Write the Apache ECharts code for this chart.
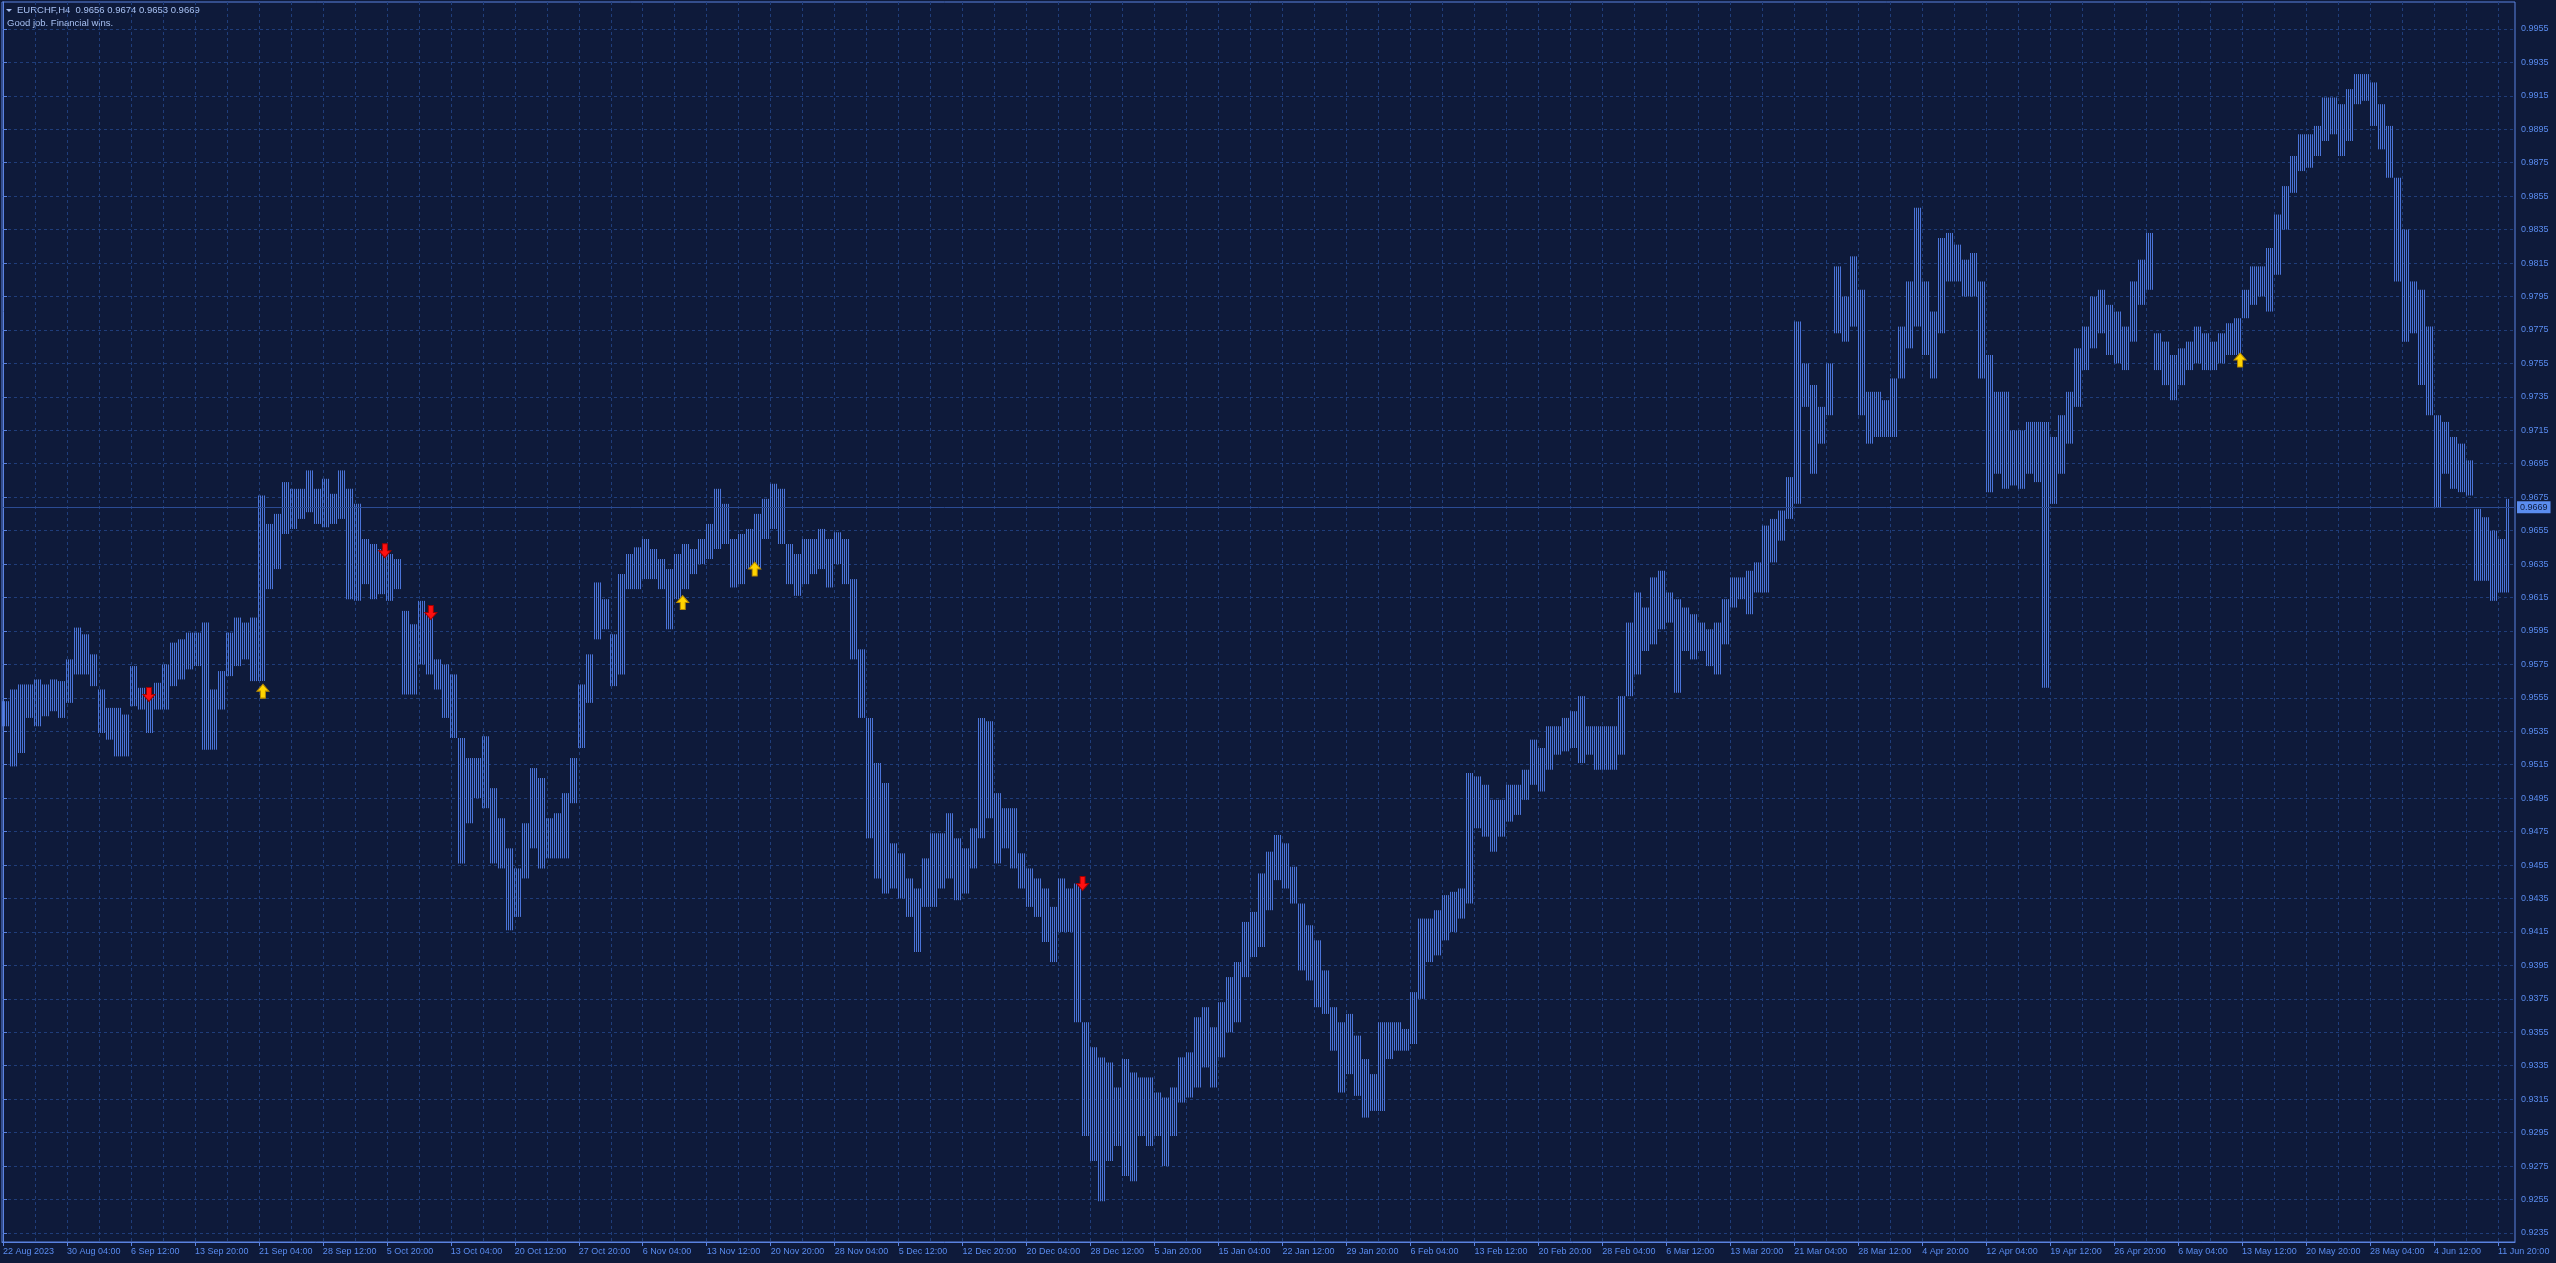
<!DOCTYPE html>
<html><head><meta charset="utf-8">
<style>html,body{margin:0;padding:0;background:#0e1a3a;overflow:hidden}#c{width:2556px;height:1263px}</style>
<script src="https://cdn.jsdelivr.net/npm/echarts@6/dist/echarts.min.js"></script>
</head><body><div id="c"></div>
<script>
const symbolName = 'EURCHF,H4';
const lastBar = {open: 0.9656, high: 0.9674, low: 0.9653, close: 0.9669};
const commentText = 'Good job. Financial wins.';
const barsPerGroup = 4;
const lastBarIndex = 1253;
// high / low of each group of 4 H4 bars, in pips (0.0001)
const groupHighPips = [
9553,9560,9563,9563,9566,9563,9566,9565,9578,9597,
9593,9581,9560,9549,9549,9545,9574,9561,9556,9564,
9575,9588,9590,9594,9594,9600,9560,9571,9594,9603,
9600,9603,9676,9659,9665,9684,9680,9680,9691,9680,
9686,9677,9691,9680,9671,9650,9647,9644,9641,9638,
9607,9599,9613,9605,9578,9575,9569,9531,9519,9519,
9532,9501,9483,9465,9453,9480,9513,9507,9483,9486,
9498,9519,9563,9581,9624,9614,9593,9629,9641,9645,
9650,9644,9638,9632,9641,9647,9644,9650,9659,9680,
9671,9650,9653,9656,9665,9674,9683,9680,9647,9641,
9650,9650,9656,9650,9654,9650,9626,9584,9543,9516,
9504,9468,9462,9447,9441,9459,9474,9474,9486,9471,
9465,9477,9543,9541,9498,9489,9489,9462,9453,9447,
9441,9430,9447,9441,9444,9361,9346,9340,9337,9322,
9339,9331,9328,9328,9319,9316,9322,9340,9343,9364,
9370,9358,9373,9388,9397,9421,9427,
9450,9463,9473,9468,9454,9432,9419,9410,9392,9370,
9361,9366,9353,9339,9330,9361,9361,9361,9357,9379,
9423,9423,9428,9437,9439,9441,9510,9508,9503,9494,
9494,9503,9503,9512,9530,9525,9538,9538,9543,9547,
9556,9538,9538,9538,9538,9556,9600,9618,9609,9627,9631,
9618,9614,9609,9605,9600,9596,9600,9614,9627,9627,
9631,9636,9658,9662,9667,9687,9780,9755,9742,9729,
9755,9813,9795,9819,9799,9738,9738,9733,9746,9777,
9804,9848,9804,9786,9830,9833,9826,9817,9821,9804,
9760,9738,9738,9715,9715,9720,9720,9720,9711,9724,
9738,9764,9777,9795,9799,9790,9786,9777,9804,9817,
9833,9773,9768,9760,9764,9768,9777,9773,9768,9773,
9779,9782,9799,9813,9813,9824,9844,9861,9879,9892,
9892,9897,9914,9914,9910,9919,9928,9928,9923,9910,
9897,9866,9835,9804,9799,9777,9724,9720,9711,
9707,9697,9668,9663,9655,9650,9674
];
const groupLowPips = [
9538,9514,9522,9543,9538,9544,9547,9543,9552,9569,
9569,9562,9534,9530,9520,9520,9550,9548,9534,9548,
9548,9562,9566,9572,9574,9524,9524,9548,9568,9574,
9578,9565,9565,9620,9632,9653,9656,9662,9666,9659,
9657,9659,9662,9614,9613,9623,9614,9617,9613,9620,
9557,9557,9575,9569,9560,9543,9531,9456,9480,9495,
9489,9456,9453,9416,9424,9447,9465,9453,9459,9459,
9459,9492,9525,9552,9590,9596,9562,9569,9620,9620,
9626,9626,9620,9596,9614,9620,9629,9635,9638,9644,
9647,9621,9623,9632,9632,9650,9656,9647,9623,9616,
9623,9629,9632,9621,9635,9623,9578,9543,9471,9447,
9438,9441,9435,9424,9403,9430,9430,9441,9447,9434,
9438,9453,9471,9483,9456,9465,9453,9441,9430,9424,
9409,9397,9415,9415,9361,9293,9278,9254,9278,9287,
9269,9266,9293,9287,9293,9275,9293,9313,9316,9322,
9334,9322,9340,9355,9361,9388,9400,
9406,9428,9446,9441,9432,9392,9386,9370,9366,9344,
9319,9330,9317,9304,9308,9308,9339,9344,9344,9348,
9375,9397,9401,9410,9415,9423,9432,9477,9472,9463,
9472,9481,9485,9494,9503,9499,9512,9521,9523,9525,
9516,9521,9512,9512,9512,9521,9556,9569,9583,9587,9596,
9600,9558,9583,9578,9583,9574,9569,9587,9609,9614,
9605,9618,9618,9636,9649,9662,9671,9729,9689,9707,
9724,9773,9768,9777,9724,9707,9711,9711,9711,9746,
9764,9777,9760,9746,9773,9804,9804,9795,9795,9746,
9678,9689,9680,9682,9680,9689,9684,9561,9671,9689,
9707,9729,9751,9764,9773,9760,9755,9751,9768,9790,
9799,9751,9742,9733,9742,9751,9755,9751,9751,9755,
9760,9760,9782,9790,9795,9786,9808,9835,9857,9870,
9872,9879,9888,9892,9879,9888,9910,9912,9897,9883,
9866,9804,9768,9773,9742,9724,9669,9689,9680,
9678,9676,9625,9625,9613,9618,9618
];
const priceTicks = [0.9235,0.9255,0.9275,0.9295,0.9315,0.9335,0.9355,0.9375,0.9395,0.9415,0.9435,0.9455,0.9475,0.9495,0.9515,0.9535,0.9555,0.9575,0.9595,0.9615,0.9635,0.9655,0.9675,0.9695,0.9715,0.9735,0.9755,0.9775,0.9795,0.9815,0.9835,0.9855,0.9875,0.9895,0.9915,0.9935,0.9955];
const timeLabels = ['22 Aug 2023','30 Aug 04:00','6 Sep 12:00','13 Sep 20:00','21 Sep 04:00','28 Sep 12:00','5 Oct 20:00','13 Oct 04:00','20 Oct 12:00','27 Oct 20:00','6 Nov 04:00','13 Nov 12:00','20 Nov 20:00','28 Nov 04:00','5 Dec 12:00','12 Dec 20:00','20 Dec 04:00','28 Dec 12:00','5 Jan 20:00','15 Jan 04:00','22 Jan 12:00','29 Jan 20:00','6 Feb 04:00','13 Feb 12:00','20 Feb 20:00','28 Feb 04:00','6 Mar 12:00','13 Mar 20:00','21 Mar 04:00','28 Mar 12:00','4 Apr 20:00','12 Apr 04:00','19 Apr 12:00','26 Apr 20:00','6 May 04:00','13 May 12:00','20 May 20:00','28 May 04:00','4 Jun 12:00','11 Jun 20:00'];
const labelStep = 32;   // bars between time labels
const gridStep = 16;    // bars between vertical grid lines
// [bar index, price] of signal arrows
const sellArrows = [[73,0.9557],[191,0.9643],[214,0.9606],[540,0.9444]];
const buyArrows = [[130,0.9559],[340,0.9612],[376,0.9632],[1119,0.9757]];

const FONT = 'Liberation Sans, Arial, sans-serif';
const bgColor = '#0e1a3a', barColor = '#4a74d8', gridColor = '#1f3d7a', axisColor = '#5a82e0', textColor = '#5a8cf0';

const stripe = document.createElement('canvas');
stripe.width = 2; stripe.height = 1;
const sctx = stripe.getContext('2d');
sctx.fillStyle = barColor; sctx.fillRect(0, 0, 1, 1);
const barPattern = {image: stripe, repeat: 'repeat'};

const groupData = groupHighPips.map((h, g) => [g * barsPerGroup, h / 10000, groupLowPips[g] / 10000]);
const labelBars = timeLabels.map((_, k) => k * labelStep);
const gridBars = [];
for (let b = 0; b <= lastBarIndex + 3; b += gridStep) gridBars.push(b);

const chart = echarts.init(document.getElementById('c'), null, {renderer: 'canvas'});
chart.setOption({
  animation: false,
  backgroundColor: bgColor,
  grid: {left: 1, right: 41, top: 2, bottom: 21, show: true, borderColor: axisColor, borderWidth: 1, backgroundColor: 'transparent'},
  xAxis: [{
    type: 'value', min: -0.5, max: 1256.5, position: 'bottom',
    axisLine: {show: true, lineStyle: {color: axisColor}},
    axisTick: {show: true, length: 4, customValues: labelBars, lineStyle: {color: axisColor}},
    axisLabel: {customValues: labelBars, formatter: v => timeLabels[Math.round(v / labelStep)] || '', align: 'left', margin: 5, color: textColor, fontSize: 9, fontFamily: FONT},
    splitLine: {show: false}
  }, {
    type: 'value', min: -0.5, max: 1256.5, position: 'top',
    axisLine: {show: false}, axisLabel: {show: false},
    axisTick: {show: false, customValues: gridBars},
    splitLine: {show: true, lineStyle: {color: gridColor, type: [3, 3], width: 1}}
  }],
  yAxis: {
    type: 'value', position: 'right', min: 0.92296, max: 0.99711,
    axisLine: {show: true, lineStyle: {color: axisColor}},
    axisTick: {show: true, length: 4, customValues: priceTicks, lineStyle: {color: axisColor}},
    axisLabel: {customValues: priceTicks, formatter: v => v.toFixed(4), margin: 6, color: textColor, fontSize: 9, fontFamily: FONT},
    splitLine: {show: true, lineStyle: {color: gridColor, type: [3, 3], width: 1}}
  },
  series: [{
    type: 'custom', silent: true, xAxisIndex: 0, yAxisIndex: 0,
    data: groupData,
    renderItem: function (params, api) {
      const b0 = api.value(0), hi = api.value(1), lo = api.value(2);
      const x0 = b0 - 0.5;
      const x1 = Math.min(b0 + barsPerGroup - 0.5, lastBarIndex + 0.5);
      const p0 = api.coord([x0, hi]);
      const p1 = api.coord([x1, lo]);
      return {type: 'rect', shape: {x: p0[0], y: p0[1], width: p1[0] - p0[0], height: Math.max(1, p1[1] - p0[1])}, style: {fill: barPattern}};
    },
    markLine: {
      silent: true, symbol: ['none', 'none'], animation: false, precision: 4,
      data: [{yAxis: lastBar.close}],
      lineStyle: {color: '#2b4b93', width: 1, type: 'solid'},
      label: {show: true, position: 'end', distance: 2, formatter: () => lastBar.close.toFixed(4), backgroundColor: '#5b8def', color: '#0e1a3a', padding: [2, 3, 1, 3], fontSize: 9, fontFamily: FONT}
    }
  }, {
    type: 'scatter', silent: true, data: buyArrows,
    symbol: 'path://M6 0L12 7L8.5 7L8.5 14L3.5 14L3.5 7L0 7Z', symbolSize: [12, 14],
    itemStyle: {color: '#ffd400', borderColor: '#b88a00', borderWidth: 1, opacity: 1}
  }, {
    type: 'scatter', silent: true, data: sellArrows,
    symbol: 'path://M3.5 0L8.5 0L8.5 7L12 7L6 14L0 7L3.5 7Z', symbolSize: [12, 14],
    itemStyle: {color: '#ff1010', borderColor: '#a00000', borderWidth: 1, opacity: 1}
  }],
  graphic: [
    {type: 'polygon', shape: {points: [[6, 9], [12, 9], [9, 12]]}, style: {fill: '#a7c0f2'}, silent: true},
    {type: 'text', left: 17, top: 5, silent: true, style: {text: symbolName + '  ' + [lastBar.open, lastBar.high, lastBar.low, lastBar.close].map(v => v.toFixed(4)).join(' '), fill: '#a7c0f2', font: '9.5px ' + FONT}},
    {type: 'text', left: 7, top: 18, silent: true, style: {text: commentText, fill: '#a7c0f2', font: '9.5px ' + FONT}}
  ]
});
</script></body></html>
